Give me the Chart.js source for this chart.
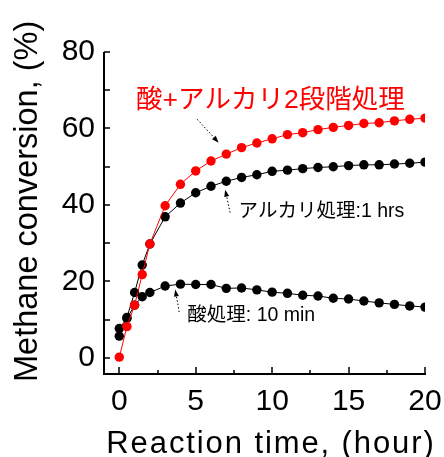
<!DOCTYPE html>
<html>
<head>
<meta charset="utf-8">
<script src="https://cdn.jsdelivr.net/npm/chart.js@4.4.1/dist/chart.umd.min.js"></script>
<style>
  html, body { margin: 0; padding: 0; background: #fff; }
  #wrap { width: 444px; height: 457px; position: relative; }
</style>
</head>
<body>
<div id="wrap"><canvas id="conv"></canvas></div>
<script>
/* ── data ── */
const hours = [0, 0.5, 1, 1.5, 2, 3, 4, 5, 6, 7, 8, 9, 10, 11, 12, 13, 14, 15, 16, 17, 18, 19, 20];
const twoStage = [0.2, 8.2, 13.8, 21.8, 29.8, 39.8, 45.4, 48.9, 51.5, 53.3, 55.0, 56.2, 57.3, 58.4, 58.9, 59.7, 60.3, 60.8, 61.3, 61.5, 62.0, 62.4, 62.7];
const alkaliOnly = [5.7, 10.6, 17.1, 24.3, 29.8, 36.9, 40.5, 43.2, 44.9, 46.2, 47.2, 47.9, 48.8, 49.1, 49.5, 49.8, 50.0, 50.3, 50.5, 50.5, 50.7, 50.9, 51.2];
const acidOnly = [7.7, 10.3, 13.8, 16.0, 17.1, 18.8, 19.3, 19.2, 19.2, 18.2, 18.3, 17.8, 17.2, 16.9, 16.4, 16.2, 15.6, 15.4, 14.9, 14.4, 14.0, 13.6, 13.3];
const xTicks = [0, 5, 10, 15, 20];
const yTicks = [0, 20, 40, 60, 80];
const seriesLabels = ['酸+アルカリ2段階処理', 'アルカリ処理:1 hrs', '酸処理: 10 min'];

const LATIN = "'Liberation Sans', Arial, sans-serif";
const JP = "'Liberation Sans', 'Noto Sans CJK JP', sans-serif";

const pts = arr => hours.map((h, i) => ({ x: h, y: arr[i] }));

/* ── callouts: label + dotted arrow, in data units ── */
const callouts = [
  { text: seriesLabels[0], color: '#ff0000', size: 26.5, at: [1.1, 67.2], from: [5.1, 62.4], to: [6.5, 56.3] },
  { text: seriesLabels[1], color: '#000', size: 19.5, at: [7.8, 38.2], from: [7.25, 38.0], to: [6.93, 44.0] },
  { text: seriesLabels[2], color: '#000', size: 19.5, at: [4.45, 11.0], from: [3.92, 12.0], to: [3.66, 17.9] },
];

const frame = {
  id: 'frame',
  afterDraw(chart) {
    const { ctx, chartArea: a, scales: { x, y } } = chart;
    ctx.save();
    ctx.strokeStyle = '#000';
    // axis lines
    ctx.lineWidth = 2;
    ctx.beginPath();
    ctx.moveTo(a.left, a.top);
    ctx.lineTo(a.left, a.bottom);
    ctx.lineTo(a.right + 1, a.bottom);
    ctx.stroke();
    // inward ticks
    ctx.lineWidth = 1.5;
    ctx.beginPath();
    for (let v = 0; v <= 20; v += 2.5) {
      const px = Math.round(x.getPixelForValue(v));
      const len = v % 5 === 0 ? 7 : 4;
      ctx.moveTo(px, a.bottom); ctx.lineTo(px, a.bottom - len);
    }
    for (let v = 0; v <= 80; v += 10) {
      const py = Math.round(y.getPixelForValue(v));
      ctx.moveTo(a.left, py); ctx.lineTo(a.left + 6, py);
    }
    ctx.stroke();

    // axis titles
    ctx.fillStyle = '#000';
    ctx.font = `31px ${LATIN}`;
    ctx.letterSpacing = '1.9px';
    ctx.textAlign = 'center';
    ctx.textBaseline = 'alphabetic';
    ctx.fillText('Reaction time, (hour)', 271, 453);
    ctx.letterSpacing = '0px';
    ctx.save();
    ctx.font = `32.5px ${LATIN}`;
    ctx.translate(28, 382);
    ctx.rotate(-Math.PI / 2);
    ctx.textAlign = 'left';
    ctx.textBaseline = 'middle';
    ctx.fillText('Methane conversion, (%)', 0, 0);
    ctx.restore();

    // callouts
    callouts.forEach(c => {
      ctx.fillStyle = c.color;
      ctx.font = `${c.size}px ${JP}`;
      ctx.textAlign = 'left';
      ctx.textBaseline = 'middle';
      ctx.fillText(c.text, x.getPixelForValue(c.at[0]), y.getPixelForValue(c.at[1]));

      const x0 = x.getPixelForValue(c.from[0]), y0 = y.getPixelForValue(c.from[1]);
      const x1 = x.getPixelForValue(c.to[0]), y1 = y.getPixelForValue(c.to[1]);
      const ang = Math.atan2(y1 - y0, x1 - x0);
      ctx.strokeStyle = '#000';
      ctx.lineWidth = 1;
      ctx.setLineDash([1.5, 2]);
      ctx.beginPath();
      ctx.moveTo(x0, y0);
      ctx.lineTo(x1 - 5 * Math.cos(ang), y1 - 5 * Math.sin(ang));
      ctx.stroke();
      ctx.setLineDash([]);
      ctx.fillStyle = '#000';
      ctx.beginPath();
      ctx.moveTo(x1, y1);
      ctx.lineTo(x1 - 7 * Math.cos(ang) + 2.5 * Math.sin(ang), y1 - 7 * Math.sin(ang) - 2.5 * Math.cos(ang));
      ctx.lineTo(x1 - 7 * Math.cos(ang) - 2.5 * Math.sin(ang), y1 - 7 * Math.sin(ang) + 2.5 * Math.cos(ang));
      ctx.closePath();
      ctx.fill();
    });
    ctx.restore();
  }
};

const lineSet = (label, arr, color, order) => ({
  label,
  data: pts(arr),
  borderColor: color,
  backgroundColor: color,
  borderWidth: 1,
  pointRadius: 4.7,
  pointBorderWidth: 0,
  tension: 0,
  order,
});

new Chart(document.getElementById('conv'), {
  type: 'line',
  data: {
    datasets: [
      lineSet(seriesLabels[0], twoStage, '#ff0000', 0),
      lineSet(seriesLabels[1], alkaliOnly, '#000000', 1),
      lineSet(seriesLabels[2], acidOnly, '#000000', 2),
    ]
  },
  options: {
    responsive: true,
    maintainAspectRatio: false,
    animation: false,
    layout: { padding: { top: 52, right: 19, left: 0, bottom: 0 } },
    plugins: { legend: { display: false }, tooltip: { enabled: false } },
    scales: {
      x: {
        type: 'linear',
        min: -1, max: 20,
        afterBuildTicks: s => { s.ticks = xTicks.map(v => ({ value: v })); },
        afterFit: s => { s.height = 83; s.paddingLeft = 0; s.paddingRight = 0; },
        grid: { display: false, drawTicks: false },
        border: { display: false },
        ticks: { color: '#000', padding: 10, maxRotation: 0, font: { family: LATIN, size: 30 } }
      },
      y: {
        type: 'linear',
        min: -4.2, max: 80,
        afterBuildTicks: s => { s.ticks = yTicks.map(v => ({ value: v })); },
        afterFit: s => { s.width = 104; s.paddingTop = 0; s.paddingBottom = 0; },
        grid: { display: false, drawTicks: false },
        border: { display: false },
        ticks: { color: '#000', padding: 9, font: { family: LATIN, size: 30 } }
      }
    }
  },
  plugins: [frame]
});
</script>
</body>
</html>
